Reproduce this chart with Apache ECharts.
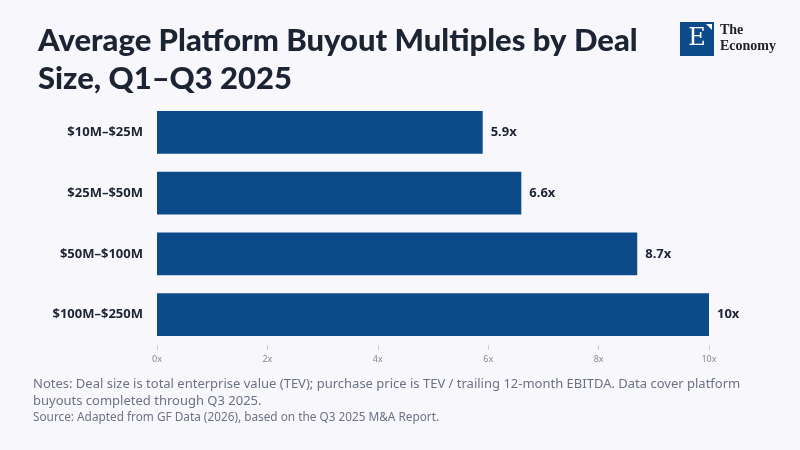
<!DOCTYPE html>
<html><head><meta charset="utf-8">
<script src="https://cdn.jsdelivr.net/npm/echarts@6/dist/echarts.min.js"></script>
<style>body{margin:0;background:#f8f8fc}#c{width:800px;height:450px}</style>
</head><body><div id="c"></div>
<script>
const categories = ["$10M–$25M","$25M–$50M","$50M–$100M","$100M–$250M"];
const values = [5.9, 6.6, 8.7, 10];
const labels = ["5.9x","6.6x","8.7x","10x"];
const chart = echarts.init(document.getElementById('c'));
chart.setOption({
  backgroundColor:'#f8f8fc',
  title:{text:'Average Platform Buyout Multiples by Deal\nSize, Q1–Q3 2025',left:33,top:17,
    textStyle:{fontFamily:'Lato',fontWeight:900,fontSize:31,color:'#1c2333',lineHeight:38}},
  graphic:[
    {type:'rect',shape:{x:680,y:22,width:34,height:34},style:{fill:'#0d4a8a'}},
    {type:'text',style:{x:697,y:39,text:'E',fill:'#fff',font:'24px "DejaVu Serif"',align:'center',verticalAlign:'middle'}},
    {type:'polygon',shape:{points:[[706,24],[712,24],[712,30]]},style:{fill:'#fff'}},
    {type:'text',style:{x:720,y:22,text:'The\nEconomy',fill:'#222',font:'bold 14px "Liberation Serif"',lineHeight:16}},
    {type:'text',style:{x:33,y:376,text:'Notes: Deal size is total enterprise value (TEV); purchase price is TEV / trailing 12-month EBITDA. Data cover platform\nbuyouts completed through Q3 2025.',fill:'#6b7280',font:'13px "Noto Sans"',lineHeight:17}},
    {type:'text',style:{x:33,y:412,text:'Source: Adapted from GF Data (2026), based on the Q3 2025 M&A Report.',fill:'#6b7280',font:'11.8px "Noto Sans"'}}
  ],
  grid:{left:157,right:91,top:102,bottom:105},
  xAxis:{type:'value',min:0,max:10,interval:2,splitLine:{show:false},
    axisLine:{show:false},axisTick:{show:true,length:5,lineStyle:{color:'#ccc'}},
    axisLabel:{formatter:'{value}x',color:'#888',fontSize:9,fontFamily:'Noto Sans',margin:10}},
  yAxis:{type:'category',data:categories,inverse:true,axisLine:{show:false},axisTick:{show:false},
    axisLabel:{color:'#1c2333',fontWeight:'bold',fontSize:13,fontFamily:'Noto Sans',margin:14}},
  series:[{type:'bar',data:values,barCategoryGap:'30%',itemStyle:{color:'#0d4a8a'},
    label:{show:true,position:'right',distance:8,fontWeight:'bold',fontSize:13,color:'#1c2333',fontFamily:'Noto Sans',
      formatter:p=>labels[p.dataIndex]}}]
});
</script></body></html>
